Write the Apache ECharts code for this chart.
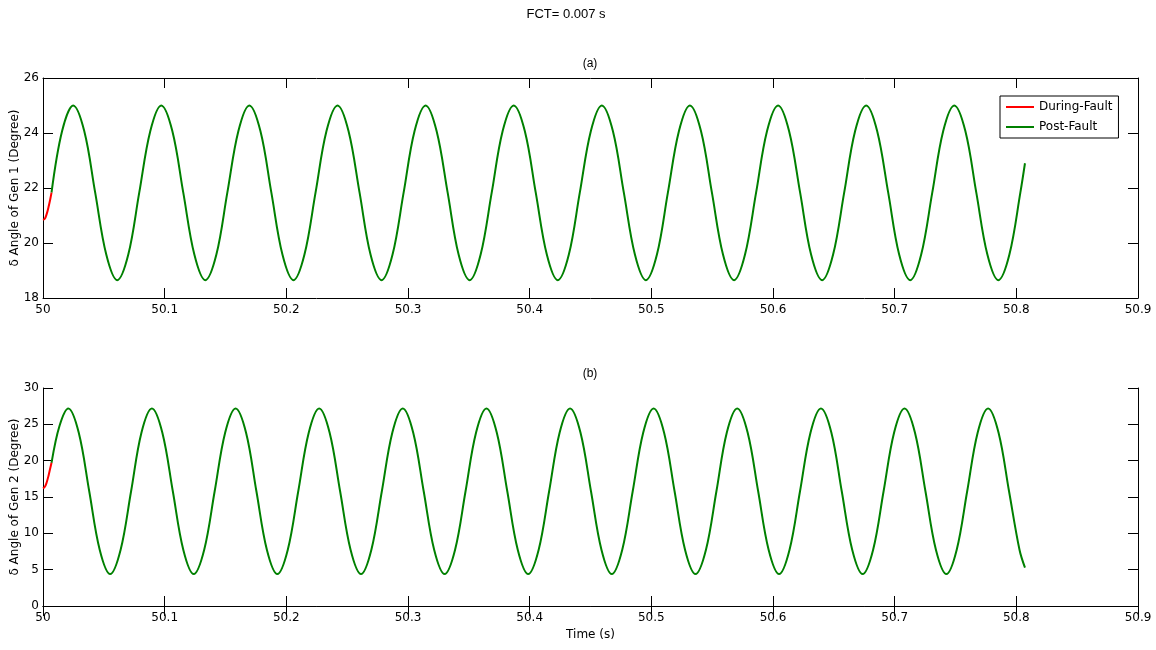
<!DOCTYPE html>
<html>
<head>
<meta charset="utf-8">
<script src="https://cdn.jsdelivr.net/npm/echarts@6/dist/echarts.min.js"></script>
<style>
html,body{margin:0;padding:0;background:#fff;}
#chart{width:1156px;height:650px;}
</style>
</head>
<body>
<div id="chart"></div>
<script>
// ---------- data ----------
var figureTitle = 'FCT= 0.007 s';
var xTicksMin = 50, xTicksMax = 50.9, xTickStep = 0.1;

// (a) Gen 1
var gen1DuringTime  = [50.0000, 50.0015, 50.0030, 50.0045, 50.0060, 50.0070];
var gen1DuringAngle = [20.84, 20.88, 21.05, 21.30, 21.60, 21.83];
var gen1PostTime = [
  50.0070, 50.0157,
  50.0248, 50.0339, 50.0429, 50.0520, 50.0610, 50.0701, 50.0791, 50.0882,
  50.0972, 50.1063, 50.1153, 50.1244, 50.1334, 50.1425, 50.1515, 50.1606,
  50.1696, 50.1787, 50.1877, 50.1968, 50.2059, 50.2149, 50.2240, 50.2330,
  50.2421, 50.2511, 50.2602, 50.2692, 50.2783, 50.2873, 50.2964, 50.3054,
  50.3145, 50.3235, 50.3326, 50.3416, 50.3507, 50.3597, 50.3688, 50.3778,
  50.3869, 50.3960, 50.4050, 50.4141, 50.4231, 50.4322, 50.4412, 50.4503,
  50.4593, 50.4684, 50.4774, 50.4865, 50.4955, 50.5046, 50.5136, 50.5227,
  50.5317, 50.5408, 50.5498, 50.5589, 50.5680, 50.5770, 50.5861, 50.5951,
  50.6042, 50.6132, 50.6223, 50.6313, 50.6404, 50.6494, 50.6585, 50.6675,
  50.6766, 50.6856, 50.6947, 50.7037, 50.7128, 50.7218, 50.7309, 50.7399,
  50.7490, 50.7581, 50.7671, 50.7762, 50.7852, 50.7943, 50.8033,
  50.8071
];
var gen1PostAngle = [
  21.83, 24.07,
  25.00, 24.07, 21.83, 19.58, 18.65, 19.58, 21.83, 24.07,
  25.00, 24.07, 21.83, 19.58, 18.65, 19.58, 21.83, 24.07,
  25.00, 24.07, 21.83, 19.58, 18.65, 19.58, 21.83, 24.07,
  25.00, 24.07, 21.83, 19.58, 18.65, 19.58, 21.83, 24.07,
  25.00, 24.07, 21.83, 19.58, 18.65, 19.58, 21.83, 24.07,
  25.00, 24.07, 21.83, 19.58, 18.65, 19.58, 21.83, 24.07,
  25.00, 24.07, 21.83, 19.58, 18.65, 19.58, 21.83, 24.07,
  25.00, 24.07, 21.83, 19.58, 18.65, 19.58, 21.83, 24.07,
  25.00, 24.07, 21.83, 19.58, 18.65, 19.58, 21.83, 24.07,
  25.00, 24.07, 21.83, 19.58, 18.65, 19.58, 21.83, 24.07,
  25.00, 24.07, 21.83, 19.58, 18.65, 19.58, 21.83,
  22.90
];

// (b) Gen 2
var gen2DuringTime  = [50.0000, 50.0015, 50.0030, 50.0045, 50.0060, 50.0070];
var gen2DuringAngle = [16.20, 16.40, 17.00, 17.90, 19.00, 19.70];
var gen2PostTime = [
  50.0070, 50.0136,
  50.0208, 50.0294, 50.0380, 50.0466, 50.0552, 50.0638, 50.0724, 50.0809,
  50.0895, 50.0981, 50.1067, 50.1153, 50.1239, 50.1325, 50.1411, 50.1497,
  50.1583, 50.1669, 50.1754, 50.1840, 50.1926, 50.2012, 50.2098, 50.2184,
  50.2270, 50.2356, 50.2442, 50.2528, 50.2614, 50.2699, 50.2785, 50.2871,
  50.2957, 50.3043, 50.3129, 50.3215, 50.3301, 50.3387, 50.3473, 50.3559,
  50.3645, 50.3730, 50.3816, 50.3902, 50.3988, 50.4074, 50.4160, 50.4246,
  50.4332, 50.4418, 50.4504, 50.4590, 50.4675, 50.4761, 50.4847, 50.4933,
  50.5019, 50.5105, 50.5191, 50.5277, 50.5363, 50.5449, 50.5535, 50.5620,
  50.5706, 50.5792, 50.5878, 50.5964, 50.6050, 50.6136, 50.6222, 50.6308,
  50.6394, 50.6480, 50.6565, 50.6651, 50.6737, 50.6823, 50.6909, 50.6995,
  50.7081, 50.7167, 50.7253, 50.7339, 50.7425, 50.7510, 50.7596, 50.7682,
  50.7768, 50.7854, 50.7940, 50.8026,
  50.8071
];
var gen2PostAngle = [
  19.70, 24.80,
  27.18, 23.84, 15.79, 7.74, 4.40, 7.74, 15.79, 23.84,
  27.18, 23.84, 15.79, 7.74, 4.40, 7.74, 15.79, 23.84,
  27.18, 23.84, 15.79, 7.74, 4.40, 7.74, 15.79, 23.84,
  27.18, 23.84, 15.79, 7.74, 4.40, 7.74, 15.79, 23.84,
  27.18, 23.84, 15.79, 7.74, 4.40, 7.74, 15.79, 23.84,
  27.18, 23.84, 15.79, 7.74, 4.40, 7.74, 15.79, 23.84,
  27.18, 23.84, 15.79, 7.74, 4.40, 7.74, 15.79, 23.84,
  27.18, 23.84, 15.79, 7.74, 4.40, 7.74, 15.79, 23.84,
  27.18, 23.84, 15.79, 7.74, 4.40, 7.74, 15.79, 23.84,
  27.18, 23.84, 15.79, 7.74, 4.40, 7.74, 15.79, 23.84,
  27.18, 23.84, 15.79, 7.74, 4.40, 7.74, 15.79, 23.84,
  27.18, 23.84, 15.79, 7.74,
  5.27
];

var seriesNames = ['During-Fault', 'Post-Fault'];
var seriesColors = ['#ff0000', '#008000'];

// ---------- chart ----------
function pairs(t, v) { return t.map(function (x, i) { return [x, v[i]]; }); }

var FONT = 'DejaVu Sans';
var axisLineStyle = { lineStyle: { color: '#000', width: 1 } };
var tickStyle = { inside: true, length: 10, lineStyle: { color: '#000', width: 1 } };
var labelStyle = { color: '#000', fontFamily: FONT, fontSize: 12 };

function xAx(grid, pos, show, name) {
  return {
    type: 'value', gridIndex: grid, position: pos,
    min: xTicksMin, max: xTicksMax, interval: xTickStep,
    axisLine: axisLineStyle, axisTick: tickStyle,
    splitLine: { show: false },
    axisLabel: Object.assign({ show: show, margin: 6,
      formatter: function (v) { return String(Number(v.toFixed(1))); } }, labelStyle),
    name: name || '', nameLocation: 'middle', nameGap: 23, nameMoveOverlap: false,
    nameTextStyle: { color: '#000', fontFamily: FONT, fontSize: 12 }
  };
}
function yAx(grid, pos, show, min, max, step, name) {
  return {
    type: 'value', gridIndex: grid, position: pos,
    min: min, max: max, interval: step,
    axisLine: axisLineStyle, axisTick: tickStyle,
    splitLine: { show: false },
    axisLabel: Object.assign({ show: show, margin: 4 }, labelStyle),
    name: name || '', nameLocation: 'middle', nameGap: 22, nameMoveOverlap: false,
    nameTextStyle: { color: '#000', fontFamily: FONT, fontSize: 12 }
  };
}

function line(name, color, data, xi, yi) {
  return {
    type: 'line', name: name, xAxisIndex: xi, yAxisIndex: yi,
    data: data, symbol: 'none', smooth: 0.35,
    lineStyle: { color: color, width: 2 }, itemStyle: { color: color },
    z: name === seriesNames[0] ? 3 : 2
  };
}

var chart = echarts.init(document.getElementById('chart'), null, { renderer: 'canvas' });
chart.setOption({
  animation: false,
  backgroundColor: '#fff',
  grid: [
    { left: 43, right: 18, top: 78, height: 220, containLabel: false, outerBoundsMode: 'none' },
    { left: 43, right: 18, top: 388, height: 218, containLabel: false, outerBoundsMode: 'none' }
  ],
  xAxis: [
    xAx(0, 'bottom', true),
    xAx(0, 'top', false),
    xAx(1, 'bottom', true, 'Time (s)'),
    xAx(1, 'top', false)
  ],
  yAxis: [
    yAx(0, 'left', true, 18, 26, 2, 'δ Angle of Gen 1 (Degree)'),
    yAx(0, 'right', false, 18, 26, 2),
    yAx(1, 'left', true, 0, 30, 5, 'δ Angle of Gen 2 (Degree)'),
    yAx(1, 'right', false, 0, 30, 5)
  ],
  legend: {
    data: seriesNames,
    orient: 'vertical', left: 1000, top: 96,
    icon: 'rect',
    itemWidth: 28, itemHeight: 2, itemGap: 6,
    padding: [4, 6, 4, 6],
    borderColor: '#000', borderWidth: 1, borderRadius: 0,
    backgroundColor: '#fff',
    textStyle: { color: '#000', fontFamily: FONT, fontSize: 12, lineHeight: 14, height: 14 }
  },
  graphic: [
    { type: 'text', x: 566, y: 14, style: { text: figureTitle, fill: '#000', font: '13px "Liberation Sans", Arial', align: 'center', verticalAlign: 'middle' } },
    { type: 'text', x: 590, y: 64, style: { text: '(a)', fill: '#000', font: '12px "Liberation Sans", Arial', align: 'center', verticalAlign: 'middle' } },
    { type: 'text', x: 590, y: 374, style: { text: '(b)', fill: '#000', font: '12px "Liberation Sans", Arial', align: 'center', verticalAlign: 'middle' } }
  ],
  series: [
    line(seriesNames[0], seriesColors[0], pairs(gen1DuringTime, gen1DuringAngle), 0, 0),
    line(seriesNames[1], seriesColors[1], pairs(gen1PostTime, gen1PostAngle), 0, 0),
    line(seriesNames[0], seriesColors[0], pairs(gen2DuringTime, gen2DuringAngle), 2, 2),
    line(seriesNames[1], seriesColors[1], pairs(gen2PostTime, gen2PostAngle), 2, 2)
  ]
});
</script>
</body>
</html>
